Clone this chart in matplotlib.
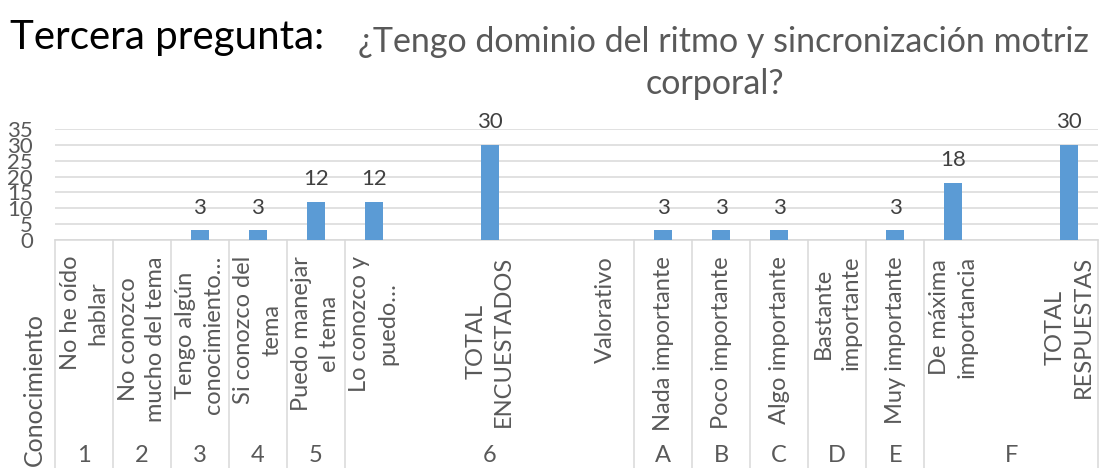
import matplotlib
matplotlib.use("Agg")
import matplotlib.pyplot as plt
from matplotlib.transforms import blended_transform_factory

plt.rcParams['font.family'] = ['Lato', 'DejaVu Sans']

# ---- datos ----
titulo = "Tercera pregunta:"
subtitulo_1 = "¿Tengo dominio del ritmo y sincronización motriz"
subtitulo_2 = "corporal?"

categorias = ["No he oído\nhablar", "No conozco\nmucho del tema", "Tengo algún\nconocimiento…",
              "Si conozco del\ntema", "Puedo manejar\nel tema", "Lo conozco y\npuedo…", "",
              "TOTAL\nENCUESTADOS", "", "Valorativo", "Nada importante", "Poco importante",
              "Algo importante", "Bastante\nimportante", "Muy importante", "De máxima\nimportancia",
              "", "TOTAL\nRESPUESTAS"]
valores = [None, None, 3, 3, 12, 12, None, 30, None, None, 3, 3, 3, None, 3, 18, None, 30]

grupos = ["1", "2", "3", "4", "5", "6", "A", "B", "C", "D", "E", "F"]
grupo_inicio = [0, 1, 2, 3, 4, 5, 10, 11, 12, 13, 14, 15]
grupo_fin = [0, 1, 2, 3, 4, 9, 10, 11, 12, 13, 14, 17]
nivel_superior = "Conocimiento"

y_ticks = [0, 5, 10, 15, 20, 25, 30, 35]

AZUL = '#5B9BD5'
GRIS_TXT = '#595959'
GRIS_LINEA = '#D9D9D9'

W, H = 1101, 468
fig = plt.figure(figsize=(W / 100, H / 100), dpi=100)
ax = fig.add_axes([55 / W, 1 - 240 / H, 1043 / W, 111 / H])

x = [i for i, v in enumerate(valores) if v is not None]
y = [v for v in valores if v is not None]
ax.bar(x, y, width=0.31, color=AZUL, zorder=3)

for xi, yi in zip(x, y):
    ax.annotate(str(yi), (xi, yi), xytext=(0, 9), textcoords='offset points',
                ha='center', va='bottom', fontsize=16, color='#404040')

ax.set_xlim(-0.5, len(categorias) - 0.5)
ax.set_ylim(0, 35)
ax.set_yticks(y_ticks)
ax.set_xticks([])
ax.tick_params(axis='y', length=0, pad=16, labelsize=16, labelcolor=GRIS_TXT)
ax.grid(axis='y', color=GRIS_LINEA, lw=1.1, zorder=0)
for s in ['top', 'right', 'left']:
    ax.spines[s].set_visible(False)
ax.spines['bottom'].set_color(GRIS_LINEA)
ax.spines['bottom'].set_linewidth(1.1)

# ---- eje de categorias en varios niveles ----
trans = blended_transform_factory(ax.transData, fig.transFigure)
separadores = sorted(set([g - 0.5 for g in grupo_inicio] + [grupo_fin[-1] + 0.5]))
for sx in separadores:
    ax.plot([sx, sx], [1 - 240 / H, 0], transform=trans, color=GRIS_LINEA,
            lw=1.1, clip_on=False)

for i, etq in enumerate(categorias):
    if etq:
        ax.text(i, 1 - 256 / H, etq, transform=trans, rotation=90, ha='center',
                va='top', multialignment='center', fontsize=17, color=GRIS_TXT,
                linespacing=1.4)

for g, a, b in zip(grupos, grupo_inicio, grupo_fin):
    ax.text((a + b) / 2, 1 - 455 / H, g, transform=trans, ha='center', va='center',
            fontsize=17, color=GRIS_TXT)

fig.text(34 / W, 1 - 389 / H, nivel_superior, rotation=90, ha='center', va='center',
         fontsize=18, color=GRIS_TXT)

# ---- titulos ----
fig.text(10 / W, 1 - 49 / H, titulo, ha='left', va='baseline', fontsize=29, color='black')
fig.text(723 / W, 1 - 52 / H, subtitulo_1, ha='center', va='baseline', fontsize=24.5,
         color=GRIS_TXT)
fig.text(715 / W, 1 - 94 / H, subtitulo_2, ha='center', va='baseline', fontsize=24.5,
         color=GRIS_TXT)

fig.savefig('out.png', dpi=100)
